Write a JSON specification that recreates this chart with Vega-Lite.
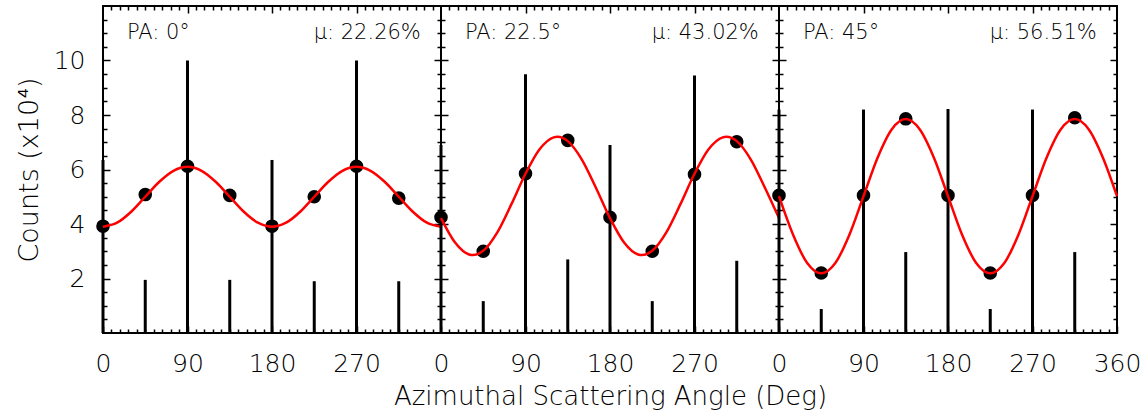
{
  "$schema": "https://vega.github.io/schema/vega-lite/v6.json",
  "padding": {"left": 14, "top": 4, "right": 3, "bottom": 5},
  "spacing": 0,
  "bounds": "flush",
  "config": {
    "view": {"stroke": "black", "strokeWidth": 2},
    "font": "DejaVu Sans",
    "text": {"fontWeight": 200},
    "axis": {"grid": false, "domain": false, "tickColor": "black", "tickWidth": 1.5, "labelColor": "black", "labelFontSize": 25, "labelFontWeight": 200, "labelFont": "DejaVu Sans", "titleFont": "DejaVu Sans", "titleFontSize": 26, "titleFontWeight": 200, "titleColor": "black", "labelFlush": false, "labelOverlap": false}
  },
  "datasets": {
    "bars": [
      {"panel": 1, "angle": 0, "counts": 6.35}, {"panel": 1, "angle": 45, "counts": 1.95}, {"panel": 1, "angle": 90, "counts": 10.0}, {"panel": 1, "angle": 135, "counts": 1.95}, {"panel": 1, "angle": 180, "counts": 6.35}, {"panel": 1, "angle": 225, "counts": 1.9}, {"panel": 1, "angle": 270, "counts": 10.0}, {"panel": 1, "angle": 315, "counts": 1.9},
      {"panel": 2, "angle": 0, "counts": 6.9}, {"panel": 2, "angle": 45, "counts": 1.17}, {"panel": 2, "angle": 90, "counts": 9.5}, {"panel": 2, "angle": 135, "counts": 2.7}, {"panel": 2, "angle": 180, "counts": 6.9}, {"panel": 2, "angle": 225, "counts": 1.17}, {"panel": 2, "angle": 270, "counts": 9.45}, {"panel": 2, "angle": 315, "counts": 2.65},
      {"panel": 3, "angle": 0, "counts": 8.2}, {"panel": 3, "angle": 45, "counts": 0.88}, {"panel": 3, "angle": 90, "counts": 8.2}, {"panel": 3, "angle": 135, "counts": 2.97}, {"panel": 3, "angle": 180, "counts": 8.22}, {"panel": 3, "angle": 225, "counts": 0.88}, {"panel": 3, "angle": 270, "counts": 8.2}, {"panel": 3, "angle": 315, "counts": 2.97}
    ],
    "points": [
      {"panel": 1, "angle": 0, "counts": 3.92}, {"panel": 1, "angle": 45, "counts": 5.08}, {"panel": 1, "angle": 90, "counts": 6.12}, {"panel": 1, "angle": 135, "counts": 5.05}, {"panel": 1, "angle": 180, "counts": 3.92}, {"panel": 1, "angle": 225, "counts": 5.0}, {"panel": 1, "angle": 270, "counts": 6.12}, {"panel": 1, "angle": 315, "counts": 4.95},
      {"panel": 2, "angle": 0, "counts": 4.25}, {"panel": 2, "angle": 45, "counts": 3.0}, {"panel": 2, "angle": 90, "counts": 5.85}, {"panel": 2, "angle": 135, "counts": 7.07}, {"panel": 2, "angle": 180, "counts": 4.25}, {"panel": 2, "angle": 225, "counts": 3.0}, {"panel": 2, "angle": 270, "counts": 5.82}, {"panel": 2, "angle": 315, "counts": 7.02},
      {"panel": 3, "angle": 0, "counts": 5.05}, {"panel": 3, "angle": 45, "counts": 2.2}, {"panel": 3, "angle": 90, "counts": 5.05}, {"panel": 3, "angle": 135, "counts": 7.86}, {"panel": 3, "angle": 180, "counts": 5.05}, {"panel": 3, "angle": 225, "counts": 2.2}, {"panel": 3, "angle": 270, "counts": 5.05}, {"panel": 3, "angle": 315, "counts": 7.9}
    ],
    "curve": [
      {"panel": 1, "angle": 0, "fit": 3.9}, {"panel": 1, "angle": 15, "fit": 4.047}, {"panel": 1, "angle": 30, "fit": 4.45}, {"panel": 1, "angle": 45, "fit": 5.0}, {"panel": 1, "angle": 60, "fit": 5.55}, {"panel": 1, "angle": 75, "fit": 5.953}, {"panel": 1, "angle": 90, "fit": 6.1}, {"panel": 1, "angle": 105, "fit": 5.953}, {"panel": 1, "angle": 120, "fit": 5.55}, {"panel": 1, "angle": 135, "fit": 5.0}, {"panel": 1, "angle": 150, "fit": 4.45}, {"panel": 1, "angle": 165, "fit": 4.047}, {"panel": 1, "angle": 180, "fit": 3.9},
      {"panel": 1, "angle": 195, "fit": 4.047}, {"panel": 1, "angle": 210, "fit": 4.45}, {"panel": 1, "angle": 225, "fit": 5.0}, {"panel": 1, "angle": 240, "fit": 5.55}, {"panel": 1, "angle": 255, "fit": 5.953}, {"panel": 1, "angle": 270, "fit": 6.1}, {"panel": 1, "angle": 285, "fit": 5.953}, {"panel": 1, "angle": 300, "fit": 5.55}, {"panel": 1, "angle": 315, "fit": 5.0}, {"panel": 1, "angle": 330, "fit": 4.45}, {"panel": 1, "angle": 345, "fit": 4.047}, {"panel": 1, "angle": 360, "fit": 3.9},
      {"panel": 2, "angle": 0, "fit": 4.217}, {"panel": 2, "angle": 15, "fit": 3.32}, {"panel": 2, "angle": 30, "fit": 2.881}, {"panel": 2, "angle": 34, "fit": 2.86}, {"panel": 2, "angle": 45, "fit": 3.018}, {"panel": 2, "angle": 60, "fit": 3.694}, {"panel": 2, "angle": 75, "fit": 4.728}, {"panel": 2, "angle": 90, "fit": 5.843}, {"panel": 2, "angle": 105, "fit": 6.74}, {"panel": 2, "angle": 120, "fit": 7.179}, {"panel": 2, "angle": 124, "fit": 7.2}, {"panel": 2, "angle": 135, "fit": 7.042}, {"panel": 2, "angle": 150, "fit": 6.366}, {"panel": 2, "angle": 165, "fit": 5.332}, {"panel": 2, "angle": 180, "fit": 4.217},
      {"panel": 2, "angle": 195, "fit": 3.32}, {"panel": 2, "angle": 210, "fit": 2.881}, {"panel": 2, "angle": 214, "fit": 2.86}, {"panel": 2, "angle": 225, "fit": 3.018}, {"panel": 2, "angle": 240, "fit": 3.694}, {"panel": 2, "angle": 255, "fit": 4.728}, {"panel": 2, "angle": 270, "fit": 5.843}, {"panel": 2, "angle": 285, "fit": 6.74}, {"panel": 2, "angle": 300, "fit": 7.179}, {"panel": 2, "angle": 304, "fit": 7.2}, {"panel": 2, "angle": 315, "fit": 7.042}, {"panel": 2, "angle": 330, "fit": 6.366}, {"panel": 2, "angle": 345, "fit": 5.332}, {"panel": 2, "angle": 360, "fit": 4.217},
      {"panel": 3, "angle": 0, "fit": 5.02}, {"panel": 3, "angle": 15, "fit": 3.605}, {"panel": 3, "angle": 30, "fit": 2.569}, {"panel": 3, "angle": 45, "fit": 2.19}, {"panel": 3, "angle": 60, "fit": 2.569}, {"panel": 3, "angle": 75, "fit": 3.605}, {"panel": 3, "angle": 90, "fit": 5.02}, {"panel": 3, "angle": 105, "fit": 6.435}, {"panel": 3, "angle": 120, "fit": 7.471}, {"panel": 3, "angle": 135, "fit": 7.85}, {"panel": 3, "angle": 150, "fit": 7.471}, {"panel": 3, "angle": 165, "fit": 6.435}, {"panel": 3, "angle": 180, "fit": 5.02},
      {"panel": 3, "angle": 195, "fit": 3.605}, {"panel": 3, "angle": 210, "fit": 2.569}, {"panel": 3, "angle": 225, "fit": 2.19}, {"panel": 3, "angle": 240, "fit": 2.569}, {"panel": 3, "angle": 255, "fit": 3.605}, {"panel": 3, "angle": 270, "fit": 5.02}, {"panel": 3, "angle": 285, "fit": 6.435}, {"panel": 3, "angle": 300, "fit": 7.471}, {"panel": 3, "angle": 315, "fit": 7.85}, {"panel": 3, "angle": 330, "fit": 7.471}, {"panel": 3, "angle": 345, "fit": 6.435}, {"panel": 3, "angle": 360, "fit": 5.02}
    ],
    "labels": [
      {"panel": 1, "pa": "PA: 0°", "mu": "μ: 22.26%"},
      {"panel": 2, "pa": "PA: 22.5°", "mu": "μ: 43.02%"},
      {"panel": 3, "pa": "PA: 45°", "mu": "μ: 56.51%"}
    ]
  },
  "hconcat": [
    {
      "width": 338, "height": 327,
      "resolve": {"axis": {"x": "independent", "y": "independent"}},
      "layer": [
        {"data": {"name": "bars"}, "transform": [{"filter": "datum.panel == 1"}],
         "mark": {"type": "rule", "color": "black", "strokeWidth": 3},
         "encoding": {
           "x": {"field": "angle", "type": "quantitative", "scale": {"domain": [0, 360], "nice": false, "zero": false}, "axis": {"orient": "bottom", "values": [0, 90, 180, 270], "tickSize": -7, "labelPadding": 25, "title": null}},
           "y": {"field": "counts", "type": "quantitative", "scale": {"domain": [0, 12], "nice": false, "zero": false}, "axis": {"orient": "left", "values": [2, 4, 6, 8, 10], "tickSize": -7, "labelPadding": 25, "title": "Counts (x10⁴)", "titleFontSize": 27, "titlePadding": 10}},
           "y2": {"datum": 0}
         }},
        {"data": {"name": "points"}, "transform": [{"filter": "datum.panel == 1"}],
         "mark": {"type": "point", "filled": true, "color": "black", "size": 185, "opacity": 1},
         "encoding": {
           "x": {"field": "angle", "type": "quantitative", "axis": {"orient": "bottom", "values": [9,18,27,36,45,54,63,72,81,99,108,117,126,135,144,153,162,171,189,198,207,216,225,234,243,252,261,279,288,297,306,315,324,333,342,351], "tickSize": -4, "labels": false, "title": null}},
           "y": {"field": "counts", "type": "quantitative", "axis": {"orient": "left", "values": [0.5,1,1.5,2.5,3,3.5,4.5,5,5.5,6.5,7,7.5,8.5,9,9.5,10.5,11,11.5], "tickSize": -4, "labels": false, "title": null}}
         }},
        {"data": {"name": "curve"}, "transform": [{"filter": "datum.panel == 1"}],
         "mark": {"type": "line", "color": "#ff0000", "strokeWidth": 2.5, "interpolate": "monotone"},
         "encoding": {
           "x": {"field": "angle", "type": "quantitative", "axis": {"orient": "top", "values": [90, 180, 270], "tickSize": -7, "labels": false, "title": null}},
           "y": {"field": "fit", "type": "quantitative", "axis": {"orient": "right", "values": [2, 4, 6, 8, 10], "tickSize": -7, "labels": false, "title": null}}
         }},
        {"data": {"name": "labels"}, "transform": [{"filter": "datum.panel == 1"}],
         "mark": {"type": "text", "align": "left", "baseline": "middle", "fontSize": 21, "color": "black"},
         "encoding": {
           "text": {"field": "pa"},
           "x": {"datum": 25.5, "type": "quantitative", "axis": {"orient": "top", "values": [9,18,27,36,45,54,63,72,81,99,108,117,126,135,144,153,162,171,189,198,207,216,225,234,243,252,261,279,288,297,306,315,324,333,342,351], "tickSize": -4, "labels": false, "title": null}},
           "y": {"datum": 11, "type": "quantitative", "axis": {"orient": "right", "values": [0.5,1,1.5,2.5,3,3.5,4.5,5,5.5,6.5,7,7.5,8.5,9,9.5,10.5,11,11.5], "tickSize": -4, "labels": false, "title": null}}
         }},
        {"data": {"name": "labels"}, "transform": [{"filter": "datum.panel == 1"}],
         "mark": {"type": "text", "align": "right", "baseline": "middle", "fontSize": 21, "color": "black"},
         "encoding": {
           "text": {"field": "mu"},
           "x": {"datum": 338.5, "type": "quantitative", "axis": null},
           "y": {"datum": 11, "type": "quantitative", "axis": null}
         }}
      ]
    },
    {
      "width": 338, "height": 327,
      "resolve": {"axis": {"x": "independent", "y": "independent"}},
      "layer": [
        {"data": {"name": "bars"}, "transform": [{"filter": "datum.panel == 2"}],
         "mark": {"type": "rule", "color": "black", "strokeWidth": 3},
         "encoding": {
           "x": {"field": "angle", "type": "quantitative", "scale": {"domain": [0, 360], "nice": false, "zero": false}, "axis": {"orient": "bottom", "values": [0, 90, 180, 270], "tickSize": -7, "labelPadding": 25, "title": "Azimuthal Scattering Angle (Deg)", "titlePadding": 7}},
           "y": {"field": "counts", "type": "quantitative", "scale": {"domain": [0, 12], "nice": false, "zero": false}, "axis": {"orient": "left", "values": [2, 4, 6, 8, 10], "tickSize": -7, "labels": false, "title": null}},
           "y2": {"datum": 0}
         }},
        {"data": {"name": "points"}, "transform": [{"filter": "datum.panel == 2"}],
         "mark": {"type": "point", "filled": true, "color": "black", "size": 185, "opacity": 1},
         "encoding": {
           "x": {"field": "angle", "type": "quantitative", "axis": {"orient": "bottom", "values": [9,18,27,36,45,54,63,72,81,99,108,117,126,135,144,153,162,171,189,198,207,216,225,234,243,252,261,279,288,297,306,315,324,333,342,351], "tickSize": -4, "labels": false, "title": null}},
           "y": {"field": "counts", "type": "quantitative", "axis": {"orient": "left", "values": [0.5,1,1.5,2.5,3,3.5,4.5,5,5.5,6.5,7,7.5,8.5,9,9.5,10.5,11,11.5], "tickSize": -4, "labels": false, "title": null}}
         }},
        {"data": {"name": "curve"}, "transform": [{"filter": "datum.panel == 2"}],
         "mark": {"type": "line", "color": "#ff0000", "strokeWidth": 2.5, "interpolate": "monotone"},
         "encoding": {
           "x": {"field": "angle", "type": "quantitative", "axis": {"orient": "top", "values": [90, 180, 270], "tickSize": -7, "labels": false, "title": null}},
           "y": {"field": "fit", "type": "quantitative", "axis": {"orient": "right", "values": [2, 4, 6, 8, 10], "tickSize": -7, "labels": false, "title": null}}
         }},
        {"data": {"name": "labels"}, "transform": [{"filter": "datum.panel == 2"}],
         "mark": {"type": "text", "align": "left", "baseline": "middle", "fontSize": 21, "color": "black"},
         "encoding": {
           "text": {"field": "pa"},
           "x": {"datum": 25.5, "type": "quantitative", "axis": {"orient": "top", "values": [9,18,27,36,45,54,63,72,81,99,108,117,126,135,144,153,162,171,189,198,207,216,225,234,243,252,261,279,288,297,306,315,324,333,342,351], "tickSize": -4, "labels": false, "title": null}},
           "y": {"datum": 11, "type": "quantitative", "axis": {"orient": "right", "values": [0.5,1,1.5,2.5,3,3.5,4.5,5,5.5,6.5,7,7.5,8.5,9,9.5,10.5,11,11.5], "tickSize": -4, "labels": false, "title": null}}
         }},
        {"data": {"name": "labels"}, "transform": [{"filter": "datum.panel == 2"}],
         "mark": {"type": "text", "align": "right", "baseline": "middle", "fontSize": 21, "color": "black"},
         "encoding": {
           "text": {"field": "mu"},
           "x": {"datum": 338.5, "type": "quantitative", "axis": null},
           "y": {"datum": 11, "type": "quantitative", "axis": null}
         }}
      ]
    },
    {
      "width": 338, "height": 327,
      "resolve": {"axis": {"x": "independent", "y": "independent"}},
      "layer": [
        {"data": {"name": "bars"}, "transform": [{"filter": "datum.panel == 3"}],
         "mark": {"type": "rule", "color": "black", "strokeWidth": 3},
         "encoding": {
           "x": {"field": "angle", "type": "quantitative", "scale": {"domain": [0, 360], "nice": false, "zero": false}, "axis": {"orient": "bottom", "values": [0, 90, 180, 270, 360], "tickSize": -7, "labelPadding": 25, "title": null}},
           "y": {"field": "counts", "type": "quantitative", "scale": {"domain": [0, 12], "nice": false, "zero": false}, "axis": {"orient": "left", "values": [2, 4, 6, 8, 10], "tickSize": -7, "labels": false, "title": null}},
           "y2": {"datum": 0}
         }},
        {"data": {"name": "points"}, "transform": [{"filter": "datum.panel == 3"}],
         "mark": {"type": "point", "filled": true, "color": "black", "size": 185, "opacity": 1},
         "encoding": {
           "x": {"field": "angle", "type": "quantitative", "axis": {"orient": "bottom", "values": [9,18,27,36,45,54,63,72,81,99,108,117,126,135,144,153,162,171,189,198,207,216,225,234,243,252,261,279,288,297,306,315,324,333,342,351], "tickSize": -4, "labels": false, "title": null}},
           "y": {"field": "counts", "type": "quantitative", "axis": {"orient": "left", "values": [0.5,1,1.5,2.5,3,3.5,4.5,5,5.5,6.5,7,7.5,8.5,9,9.5,10.5,11,11.5], "tickSize": -4, "labels": false, "title": null}}
         }},
        {"data": {"name": "curve"}, "transform": [{"filter": "datum.panel == 3"}],
         "mark": {"type": "line", "color": "#ff0000", "strokeWidth": 2.5, "interpolate": "monotone"},
         "encoding": {
           "x": {"field": "angle", "type": "quantitative", "axis": {"orient": "top", "values": [90, 180, 270], "tickSize": -7, "labels": false, "title": null}},
           "y": {"field": "fit", "type": "quantitative", "axis": {"orient": "right", "values": [2, 4, 6, 8, 10], "tickSize": -7, "labels": false, "title": null}}
         }},
        {"data": {"name": "labels"}, "transform": [{"filter": "datum.panel == 3"}],
         "mark": {"type": "text", "align": "left", "baseline": "middle", "fontSize": 21, "color": "black"},
         "encoding": {
           "text": {"field": "pa"},
           "x": {"datum": 25.5, "type": "quantitative", "axis": {"orient": "top", "values": [9,18,27,36,45,54,63,72,81,99,108,117,126,135,144,153,162,171,189,198,207,216,225,234,243,252,261,279,288,297,306,315,324,333,342,351], "tickSize": -4, "labels": false, "title": null}},
           "y": {"datum": 11, "type": "quantitative", "axis": {"orient": "right", "values": [0.5,1,1.5,2.5,3,3.5,4.5,5,5.5,6.5,7,7.5,8.5,9,9.5,10.5,11,11.5], "tickSize": -4, "labels": false, "title": null}}
         }},
        {"data": {"name": "labels"}, "transform": [{"filter": "datum.panel == 3"}],
         "mark": {"type": "text", "align": "right", "baseline": "middle", "fontSize": 21, "color": "black"},
         "encoding": {
           "text": {"field": "mu"},
           "x": {"datum": 338.5, "type": "quantitative", "axis": null},
           "y": {"datum": 11, "type": "quantitative", "axis": null}
         }}
      ]
    }
  ]
}
